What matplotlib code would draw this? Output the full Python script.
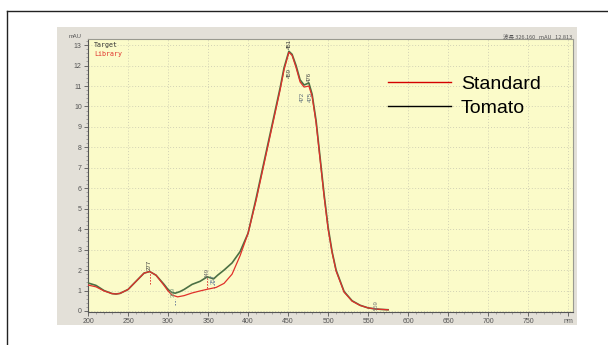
import matplotlib
matplotlib.use("Agg")
import matplotlib.pyplot as plt
from matplotlib.lines import Line2D
from matplotlib.patches import Rectangle
from matplotlib.ticker import MultipleLocator

plt.rcParams['font.family'] = ['Liberation Sans', 'Noto Sans CJK JP', 'DejaVu Sans']

# Tomato (target) spectrum
tomato_wl = [200, 210, 220, 230, 235, 240, 250, 260, 270, 277, 285, 295, 300, 305, 309,
             315, 320, 330, 340, 349, 353, 357, 362, 370, 380, 390, 400, 410, 420, 430,
             440, 445, 451, 455, 460, 465, 470, 476, 480, 485, 490, 495, 500, 505, 510,
             520, 530, 540, 550, 559, 565, 575]
tomato_abs = [1.37, 1.25, 1.00, 0.85, 0.83, 0.86, 1.05, 1.45, 1.85, 1.93, 1.75, 1.30, 1.05, 0.90, 0.87,
              0.95, 1.05, 1.30, 1.45, 1.67, 1.62, 1.57, 1.75, 2.00, 2.35, 2.90, 3.80, 5.50, 7.30, 9.10,
              10.90, 11.90, 12.70, 12.55, 12.00, 11.30, 11.05, 11.15, 10.60, 9.30, 7.50, 5.70, 4.10, 2.90, 2.00,
              0.95, 0.50, 0.28, 0.15, 0.10, 0.08, 0.06]

# Standard (library) spectrum
standard_wl = [200, 210, 220, 230, 235, 240, 250, 260, 270, 277, 285, 295, 300, 305, 312,
               320, 330, 340, 350, 360, 370, 380, 390, 400, 410, 420, 430, 440, 445, 451,
               455, 460, 465, 470, 476, 480, 485, 490, 495, 500, 505, 510, 520, 530, 540,
               550, 559, 565, 575]
standard_abs = [1.27, 1.18, 0.98, 0.85, 0.83, 0.86, 1.05, 1.45, 1.85, 1.93, 1.75, 1.25, 0.98, 0.78, 0.69,
                0.75, 0.88, 0.98, 1.07, 1.15, 1.35, 1.80, 2.70, 3.80, 5.40, 7.20, 9.00, 10.80, 11.80, 12.65,
                12.50, 11.90, 11.20, 10.95, 11.00, 10.50, 9.20, 7.40, 5.60, 4.00, 2.85, 1.95, 0.92, 0.48, 0.27,
                0.15, 0.10, 0.08, 0.06]

# Peak labels: wavelength, base value, text, colour, direction
peak_wl = [277, 306, 349, 357, 451, 451, 477, 468, 478, 560]
peak_y = [2.0, 0.7, 1.6, 1.3, 12.8, 11.9, 11.2, 10.7, 10.7, 0.05]
peak_txt = ["277", "309", "349", "357", "451", "459", "476", "472", "475", "559"]
peak_col = ["#333333", "#7a9a7a", "#666666", "#6a7f9a", "#333333", "#444444",
            "#444444", "#556677", "#556677", "#777777"]
peak_dir = ["up", "up", "up", "up", "up", "down", "up", "down", "down", "up"]

x_ticks = [200, 250, 300, 350, 400, 450, 500, 550, 600, 650, 700, 750, 800]
x_labels = ["200", "250", "300", "350", "400", "450", "500", "550", "600", "650", "700", "750", "nm"]
y_ticks = list(range(0, 14))

W, H = 608, 345
fig = plt.figure(figsize=(W / 100, H / 100), dpi=100)
fig.patch.set_facecolor("white")

# outer frame lines
fig.add_artist(Line2D([7 / W, 7 / W], [0, 1 - 11 / H], color="#222222", lw=1.0))
fig.add_artist(Line2D([7 / W, 1.0], [1 - 11 / H, 1 - 11 / H], color="#222222", lw=1.0))
# grey panel
fig.add_artist(Rectangle((57 / W, 1 - 325 / H), 520 / W, 298 / H, facecolor="#e3e0d8",
                         edgecolor="none", zorder=0))

ax = fig.add_axes([88 / W, 1 - 312 / H, (573 - 88) / W, (312 - 39) / H])
ax.set_facecolor("#fbfbc9")
ax.set_xlim(200, 806)
ax.set_ylim(-0.05, 13.3)

ax.set_xticks(x_ticks)
ax.set_xticklabels(x_labels)
ax.set_yticks(y_ticks)
ax.xaxis.set_minor_locator(MultipleLocator(10))
ax.yaxis.set_minor_locator(MultipleLocator(0.2))
ax.tick_params(axis="both", which="major", labelsize=5, colors="#555555", length=3, width=0.6, pad=1.5)
ax.tick_params(axis="both", which="minor", colors="#777777", length=1.5, width=0.4)
ax.grid(True, which="major", color="#d2d2b4", linestyle=(0, (1, 2)), lw=0.7)
for s in ax.spines.values():
    s.set_color("#9a9a90")
    s.set_linewidth(0.8)
ax.spines["left"].set_color("#555555")
ax.spines["bottom"].set_color("#555555")

ax.plot(tomato_wl, tomato_abs, color="#4c7044", lw=1.2, zorder=3)
ax.plot(standard_wl, standard_abs, color="#e0302a", lw=0.9, zorder=4)

for wl, yv, t, c, d in zip(peak_wl, peak_y, peak_txt, peak_col, peak_dir):
    ax.text(wl, yv, t, rotation=90, fontsize=4.3, color=c, ha="center",
            va="bottom" if d == "up" else "top", zorder=5)

# small dashed markers below some peaks
ax.vlines([277, 349], [1.3, 1.1], [1.85, 1.6], colors="#e0302a", linestyles=(0, (1.5, 1.5)), lw=0.7, zorder=2)
ax.vlines([357, 309], [1.1, 0.3], [1.5, 0.6], colors="#6a7f9a", linestyles=(0, (1.5, 1.5)), lw=0.7, zorder=2)

ax.text(0.012, 0.99, "Target", transform=ax.transAxes, fontsize=4.8, color="#333333",
        ha="left", va="top", family=["DejaVu Sans Mono"])
ax.text(0.012, 0.955, "Library", transform=ax.transAxes, fontsize=4.8, color="#e0302a",
        ha="left", va="top", family=["DejaVu Sans Mono"])
ax.text(0.998, 1.0, "波長 326.160   mAU   12.813", transform=ax.transAxes, fontsize=4,
        color="#555555", ha="right", va="bottom", family=["Noto Sans CJK JP", "DejaVu Sans"])
fig.text(75 / W, 1 - 37 / H, "mAU", fontsize=4.2, color="#555555", ha="center", va="center")

handles = [Line2D([], [], color="#d40000", lw=1.0), Line2D([], [], color="black", lw=1.0)]
ax.legend(handles, ["Standard", "Tomato"], loc="upper left", bbox_to_anchor=(300 / 485, 1 - 36 / 273),
          frameon=False, fontsize=14, handlelength=3.25, handletextpad=0.5, labelspacing=0.35,
          borderaxespad=0, borderpad=0)

fig.savefig("out.png", dpi=100)
